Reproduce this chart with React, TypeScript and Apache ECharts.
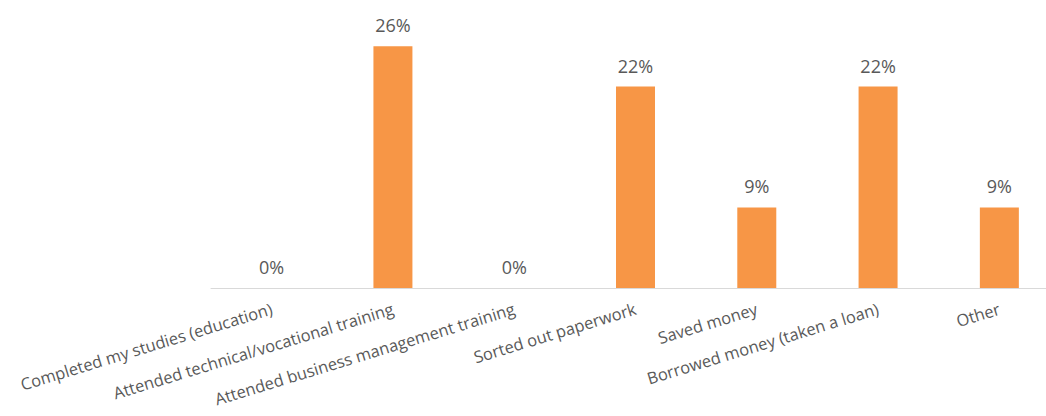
import React, { useEffect, useRef } from "react";
import * as echarts from "echarts";

const categories = [
  "Completed my studies (education)",
  "Attended technical/vocational training",
  "Attended business management training",
  "Sorted out paperwork",
  "Saved money",
  "Borrowed money (taken a loan)",
  "Other",
];
const values = [0, 26.09, 0, 21.74, 8.7, 21.74, 8.7];

export default function App() {
  const ref = useRef<HTMLDivElement>(null);
  useEffect(() => {
    if (!ref.current) return;
    const chart = echarts.init(ref.current, undefined, { renderer: "svg" });
    chart.setOption({
      animation: false,
      grid: {
        left: 211,
        width: 849,
        top: 10,
        bottom: 128,
        containLabel: false,
        outerBoundsMode: "none",
      },
      xAxis: {
        type: "category",
        data: categories,
        axisLine: { show: true, lineStyle: { color: "#d9d9d9", width: 1 } },
        axisTick: { show: false },
        axisLabel: {
          interval: 0,
          rotate: 17,
          color: "#595959",
          fontFamily: "Open Sans",
          fontSize: 16.5,
          margin: 20,
        },
      },
      yAxis: {
        type: "value",
        min: 0,
        max: 30,
        show: false,
        splitLine: { show: false },
      },
      series: [
        {
          type: "bar",
          data: values,
          barWidth: 39,
          itemStyle: { color: "#f79646" },
          label: {
            show: true,
            position: "top",
            distance: 12,
            color: "#595959",
            fontFamily: "Open Sans",
            fontSize: 18,
            formatter: (p: any) => Math.round(p.value) + "%",
          },
        },
      ],
    });
    return () => chart.dispose();
  }, []);
  return (
    <div
      style={{
        position: "fixed",
        left: 0,
        top: 0,
        width: 1046,
        height: 416,
        overflow: "hidden",
        background: "#fff",
      }}
    >
      <div ref={ref} style={{ width: 1070, height: 416 }} />
    </div>
  );
}
